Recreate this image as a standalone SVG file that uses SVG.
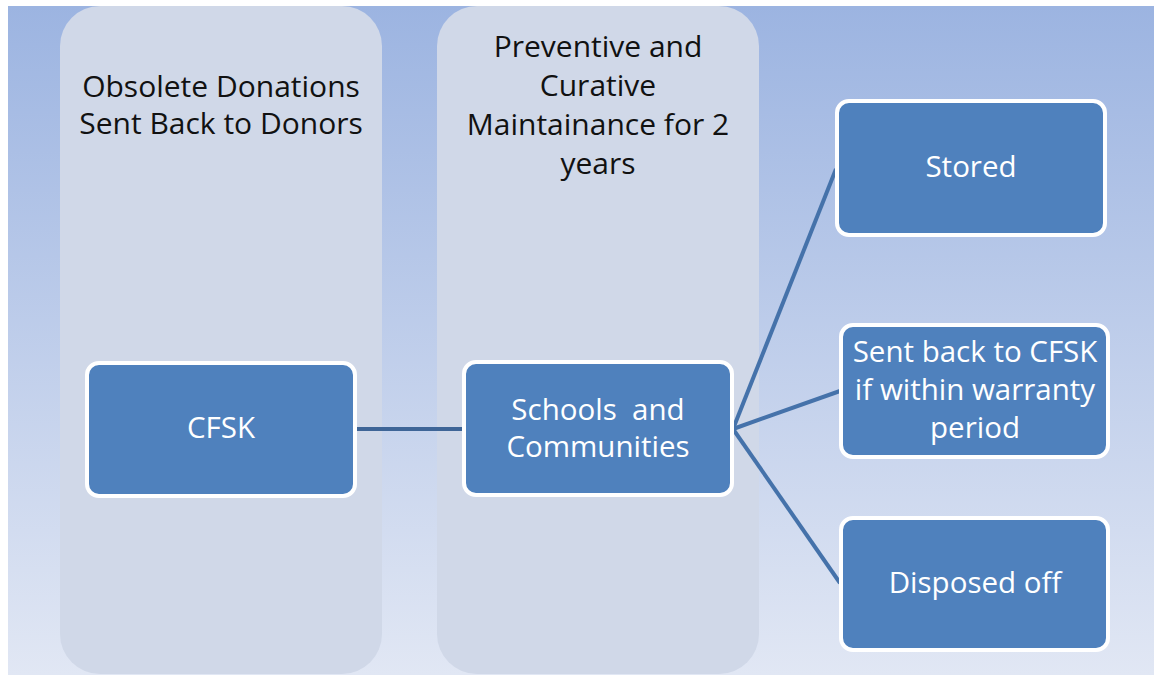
<svg xmlns="http://www.w3.org/2000/svg" width="1154" height="675" viewBox="0 0 1154 675">
<defs>
<linearGradient id="bg" x1="0" y1="0" x2="0" y2="1">
<stop offset="0" stop-color="#9cb4e1"/>
<stop offset="1" stop-color="#e1e7f4"/>
</linearGradient>
</defs>
<style>
.panel{fill:#d0d8e8}
.box{fill:#4f81bd;stroke:#ffffff;stroke-width:4}
.pt{font-family:"Open Sans","Liberation Sans",sans-serif;font-size:30px;fill:#111111;text-anchor:middle}
.bt{font-family:"Open Sans","Liberation Sans",sans-serif;font-size:29.5px;fill:#ffffff;text-anchor:middle}
.conn{stroke:#4572aa;stroke-width:4;fill:none}
</style>
<rect x="0" y="0" width="1154" height="675" fill="#ffffff"/>
<rect x="8" y="6" width="1146" height="669" fill="url(#bg)"/>
<g id="panel-obsolete">
<rect class="panel" x="60" y="6" width="322" height="668" rx="40"/>
<text class="pt" x="221" y="97">Obsolete Donations</text>
<text class="pt" x="221" y="134">Sent Back to Donors</text>
</g>
<g id="panel-maintenance">
<rect class="panel" x="437" y="6" width="322" height="668" rx="40"/>
<text class="pt" x="598" y="57">Preventive and</text>
<text class="pt" x="598" y="96">Curative</text>
<text class="pt" x="598" y="135">Maintainance for 2</text>
<text class="pt" x="598" y="174">years</text>
</g>
<g id="connectors">
<line x1="357" y1="429" x2="462" y2="429" stroke="#3e6597" stroke-width="4"/>
<line class="conn" x1="733" y1="429" x2="836" y2="169"/>
<line class="conn" x1="733" y1="429" x2="840" y2="391"/>
<line class="conn" x1="733" y1="429" x2="840" y2="583"/>
</g>
<g id="node-cfsk">
<rect class="box" x="87" y="363" width="268" height="133" rx="12"/>
<text class="bt" x="221" y="438">CFSK</text>
</g>
<g id="node-schools">
<rect class="box" x="464" y="362" width="268" height="133" rx="12"/>
<text class="bt" x="598" y="420" xml:space="preserve">Schools  and</text>
<text class="bt" x="598" y="457">Communities</text>
</g>
<g id="node-stored">
<rect class="box" x="837" y="101" width="268" height="134" rx="12"/>
<text class="bt" x="971" y="177">Stored</text>
</g>
<g id="node-sentback">
<rect class="box" x="841" y="325" width="267" height="132" rx="12"/>
<text class="bt" x="975" y="362">Sent back to CFSK</text>
<text class="bt" x="975" y="400">if within warranty</text>
<text class="bt" x="975" y="438">period</text>
</g>
<g id="node-disposed">
<rect class="box" x="841" y="518" width="267" height="132" rx="12"/>
<text class="bt" x="975" y="593">Disposed off</text>
</g>
</svg>
